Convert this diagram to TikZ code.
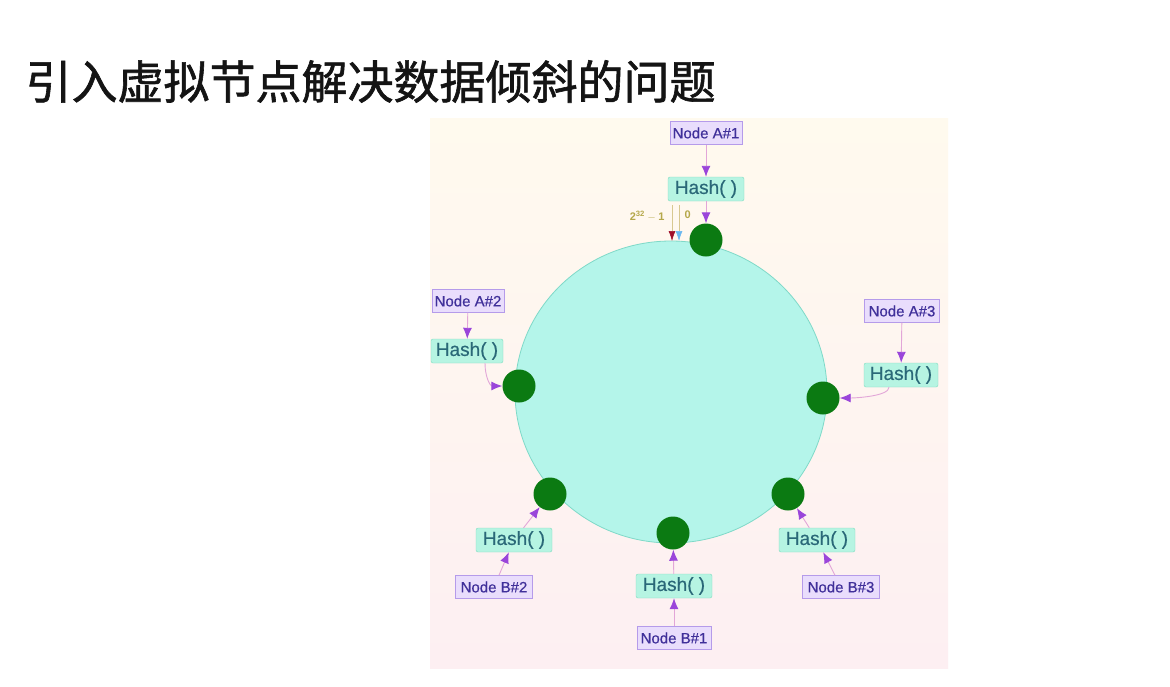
\documentclass[tikz,border=0pt]{standalone}
\usepackage{fontspec}
\setmainfont{Liberation Sans}
\newfontfamily\cjk[FakeBold=1.3]{Noto Sans CJK SC}
\newfontfamily\labelfont[FakeBold=0.5]{Liberation Sans}
\usepackage{tikz}
\usetikzlibrary{arrows.meta}
\definecolor{ringFill}{HTML}{B4F5EA}
\definecolor{ringLine}{HTML}{7FD9C8}
\definecolor{dotGreen}{HTML}{0B7A12}
\definecolor{nodeFill}{HTML}{E9DDFC}
\definecolor{nodeLine}{HTML}{B59BEA}
\definecolor{nodeText}{HTML}{40309A}
\definecolor{hashFill}{HTML}{B6F4E2}
\definecolor{hashLine}{HTML}{80DCC0}
\definecolor{hashText}{HTML}{2A6878}
\definecolor{tipPurple}{HTML}{9A45DA}
\definecolor{stemPink}{HTML}{E2A6D8}
\definecolor{panelTop}{HTML}{FFFAEE}
\definecolor{panelBot}{HTML}{FDEFF2}
\definecolor{markText}{HTML}{B5A84A}
\definecolor{markStem}{HTML}{D8C890}
\definecolor{tipRed}{HTML}{A0102A}
\definecolor{tipBlue}{HTML}{6AB8F0}
\tikzset{
  vnode/.style={draw=nodeLine, fill=nodeFill, text=nodeText, inner sep=0pt,
    font=\labelfont\fontsize{15}{15}\selectfont, minimum width=72pt, minimum height=23pt},
  hashbox/.style={draw=hashLine, fill=hashFill, text=hashText, rounded corners=2pt, inner sep=0pt,
    font=\labelfont\fontsize{19}{19}\selectfont, minimum width=76pt, minimum height=24pt},
  vdot/.style={circle, fill=dotGreen, minimum size=33pt, inner sep=0pt},
  feed/.style={stemPink, line width=0.9pt, -{Latex[color=tipPurple, length=11pt, width=9pt]}},
}

\begin{document}
\begin{tikzpicture}[x=1pt, y=-1pt]
        \useasboundingbox (0,0) rectangle (1170,686);
        \fill[white] (0,0) rectangle (1170,686);

        \node[anchor=base west, text=black!92, font=\cjk\fontsize{46}{46}\selectfont] (title) at (22,99) {引入虚拟节点解决数据倾斜的问题};

        % panel and ring
        \shade[top color=panelTop, bottom color=panelBot] (430,118) rectangle (948,668);
        \draw[ringLine, fill=ringFill, line width=0.8pt] (671,392) ellipse [x radius=156, y radius=151];

        % start of the ring
        \coordinate (maxTop) at (672,205);
        \coordinate (maxEnd) at (672,241);
        \coordinate (zeroTop) at (679,205);
        \coordinate (zeroEnd) at (679,241);
        \draw[markStem, line width=0.6pt, -{Latex[color=tipRed, length=10pt, width=7pt]}] (maxTop) -- (maxEnd);
        \draw[markStem, line width=0.6pt, -{Latex[color=tipBlue, length=10pt, width=7pt]}] (zeroTop) -- (zeroEnd);
        \node[anchor=east, text=markText, font=\fontsize{11}{11}\selectfont] (maxLbl) at (668,216) {$\mathbf{2^{32}-1}$};
        \node[anchor=west, text=markText, font=\fontsize{11}{11}\selectfont] (zeroLbl) at (681,215) {$\mathbf{0}$};

        % virtual nodes on the ring
        \node[vdot] (dA1) at (706,240) {};
        \node[vdot] (dA2) at (519,386) {};
        \node[vdot] (dA3) at (823,398) {};
        \node[vdot] (dB1) at (673,533) {};
        \node[vdot] (dB2) at (550,494) {};
        \node[vdot] (dB3) at (788,494) {};

        % node names and hashes
        \node[vnode] (nA1) at (706,133) {Node A\#1};
        \node[hashbox] (hA1) at (706,189) {Hash( )};
        \node[vnode] (nA2) at (468,301) {Node A\#2};
        \node[hashbox, minimum width=72pt] (hA2) at (467,351) {Hash( )};
        \node[vnode, minimum width=75pt] (nA3) at (902,311) {Node A\#3};
        \node[hashbox, minimum width=74pt] (hA3) at (901,375) {Hash( )};
        \node[hashbox] (hB1) at (674,586) {Hash( )};
        \node[vnode, minimum width=74pt] (nB1) at (674,638) {Node B\#1};
        \node[hashbox] (hB2) at (514,540) {Hash( )};
        \node[vnode, minimum width=77pt] (nB2) at (494,587) {Node B\#2};
        \node[hashbox] (hB3) at (817,540) {Hash( )};
        \node[vnode, minimum width=77pt] (nB3) at (841,587) {Node B\#3};

        % feeds
        \draw[feed] (nA1) -- (hA1);
        \draw[feed] (hA1) -- (dA1);
        \draw[feed] (nA2) -- (hA2);
        \draw[feed] ([xshift=18pt]hA2.south) .. controls +(0,14) and +(-12,0) .. (dA2.west);
        \draw[feed] (nA3) -- (hA3);
        \draw[feed] ([xshift=-12pt]hA3.south) .. controls +(0,9) and +(16,0) .. (dA3.east);
        \draw[feed] (nB1) -- (hB1);
        \draw[feed] (hB1) -- (dB1);
        \draw[feed] (nB2) -- (hB2);
        \draw[feed] (hB2) -- (dB2);
        \draw[feed] (nB3) -- (hB3);
        \draw[feed] (hB3) -- (dB3);
\end{tikzpicture}
\end{document}
